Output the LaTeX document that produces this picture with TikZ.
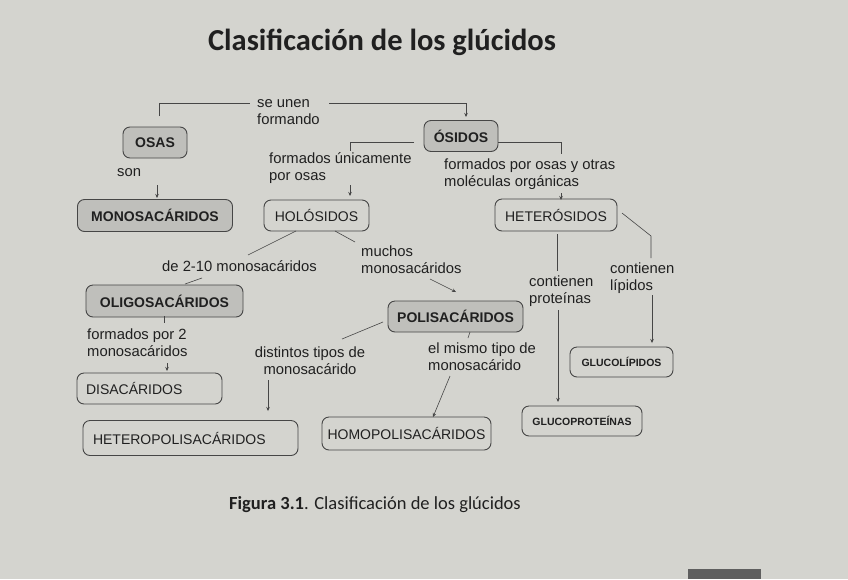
\documentclass[tikz,border=0pt]{standalone}
\usepackage{fontspec}
\setmainfont{Liberation Sans}
\newfontfamily\calib{Carlito}
\usetikzlibrary{arrows.meta}
\definecolor{bg}{RGB}{212,212,207}
\definecolor{boxfill}{RGB}{191,191,187}
\definecolor{ink}{RGB}{32,32,32}
\definecolor{lineink}{RGB}{70,70,70}
\definecolor{patch}{RGB}{95,95,95}
\tikzset{
  box/.style={draw=lineink, line width=0.9pt, rounded corners=7pt, inner sep=0pt, text=ink,
    font=\fontsize{14}{16}\selectfont},
  filledbox/.style={box, fill=boxfill, font=\bfseries\fontsize{14}{16}\selectfont},
  smallbox/.style={box, font=\bfseries\fontsize{10.5}{13}\selectfont},
  lbl/.style={inner sep=0pt, text=ink, align=left, anchor=west, font=\fontsize{14.8}{17}\selectfont},
  conn/.style={draw=lineink, line width=0.6pt},
  arr/.style={-{Stealth[length=4pt,width=3.5pt]}}
}
\begin{document}
\begin{tikzpicture}[x=1pt,y=-1pt]
\path[fill=bg] (0,0) rectangle (848,579);
\useasboundingbox (0,0) rectangle (848,579);
\fill[patch] (688,569) rectangle (761,579);

% title and caption
\node[text=ink, font=\calib\bfseries\fontsize{30.5}{36}\selectfont] (title) at (382,42) {Clasificación de los glúcidos};
\node[text=ink, font=\calib\fontsize{18.5}{22}\selectfont] (caption) at (375,505) {\textbf{Figura 3.1}. Clasificación de los glúcidos};

% boxes
\node[filledbox, minimum width=64pt, minimum height=31pt] (osas) at (155,142.5) {OSAS};
\node[filledbox, minimum width=74pt, minimum height=31pt] (osidos) at (461,136) {ÓSIDOS};
\node[filledbox, minimum width=155pt, minimum height=32pt] (mono) at (155,215.5) {MONOSACÁRIDOS};
\node[box, minimum width=105pt, minimum height=31pt] (holo) at (316.5,215.5) {HOLÓSIDOS};
\node[box, minimum width=122pt, minimum height=32pt] (hetero) at (556,215) {HETERÓSIDOS};
\node[filledbox, minimum width=157pt, minimum height=32pt] (oligo) at (164.5,301) {OLIGOSACÁRIDOS};
\node[filledbox, minimum width=135pt, minimum height=31pt] (poli) at (455.5,316.5) {POLISACÁRIDOS};
\node[box, minimum width=145pt, minimum height=31pt, text width=127pt, align=left] (disa) at (149.5,388.5) {DISACÁRIDOS};
\node[box, minimum width=215pt, minimum height=35pt, text width=195pt, align=left] (hetpol) at (190.5,438) {HETEROPOLISACÁRIDOS};
\node[box, minimum width=169pt, minimum height=33pt] (hompol) at (406.5,433.5) {HOMOPOLISACÁRIDOS};
\node[smallbox, minimum width=120pt, minimum height=30pt] (gprot) at (582,421) {GLUCOPROTEÍNAS};
\node[smallbox, minimum width=103pt, minimum height=30pt] (glip) at (621.5,362) {GLUCOLÍPIDOS};

% labels
\node[lbl] (seunen) at (257,112.5) {se unen\\formando};
\node[lbl] (son) at (117,173) {son};
\node[lbl] (funic) at (269,168.5) {formados únicamente\\por osas};
\node[lbl] (fosas) at (444,174.5) {formados por osas y otras\\moléculas orgánicas};
\node[lbl] (de210) at (162,266) {de 2-10 monosacáridos};
\node[lbl] (muchos) at (361,260) {muchos\\monosacáridos};
\node[lbl] (cprot) at (529,291.5) {contienen\\proteínas};
\node[lbl] (clip) at (610,278) {contienen\\lípidos};
\node[lbl] (fpor2) at (87,342.5) {formados por 2\\monosacáridos};
\node[lbl, anchor=center, align=center] (distintos) at (310,360.5) {distintos tipos de\\monosacárido};
\node[lbl] (mismo) at (428,356.5) {el mismo tipo de\\monosacárido};

% connector points
\coordinate (su1) at (159,116);
\coordinate (su2) at (250,103);
\coordinate (su3) at (329,103);
\coordinate (su4) at (466,117);
\coordinate (son1) at (157,185);
\coordinate (son2) at (157,198);
\coordinate (ol1) at (414,142);
\coordinate (ol2) at (350,151);
\coordinate (ol3) at (350,185);
\coordinate (ol4) at (350,196);
\coordinate (or1) at (498,142);
\coordinate (or2) at (561,154);
\coordinate (or3) at (561,193);
\coordinate (or4) at (561,200);
\coordinate (hl1) at (296,231);
\coordinate (hl2) at (248,255);
\coordinate (hl3) at (185,284);
\coordinate (hl4) at (202,278);
\coordinate (hr1) at (335,231);
\coordinate (hr2) at (355,242);
\coordinate (hr3) at (430,279);
\coordinate (hr4) at (456,292);
\coordinate (hd1) at (557,234);
\coordinate (hd2) at (557,271);
\coordinate (hd3) at (558,310);
\coordinate (hd4) at (558,402);
\coordinate (hx1) at (622,213);
\coordinate (hx2) at (651,236);
\coordinate (hx3) at (651,258);
\coordinate (hx4) at (652,295);
\coordinate (hx5) at (652,343);
\coordinate (og1) at (164,316);
\coordinate (og2) at (164,323);
\coordinate (og3) at (167,363);
\coordinate (og4) at (167,371);
\coordinate (pl1) at (383,322);
\coordinate (pl2) at (342,339);
\coordinate (pl3) at (268,380);
\coordinate (pl4) at (268,411);
\coordinate (pb1) at (470,332);
\coordinate (pb2) at (468,338);
\coordinate (pb3) at (450,376);
\coordinate (pb4) at (433,417);

% connectors
\draw[conn] (su1) |- (su2);
\draw[conn, arr] (su3) -| (su4);
\draw[conn, arr] (son1) -- (son2);
\draw[conn] (ol1) -| (ol2);
\draw[conn, arr] (ol3) -- (ol4);
\draw[conn] (or1) -| (or2);
\draw[conn, arr] (or3) -- (or4);
\draw[conn] (hl1) -- (hl2);
\draw[conn] (hl3) -- (hl4);
\draw[conn] (hr1) -- (hr2);
\draw[conn, arr] (hr3) -- (hr4);
\draw[conn] (hd1) -- (hd2);
\draw[conn, arr] (hd3) -- (hd4);
\draw[conn] (hx1) -- (hx2) -- (hx3);
\draw[conn, arr] (hx4) -- (hx5);
\draw[conn] (og1) -- (og2);
\draw[conn, arr] (og3) -- (og4);
\draw[conn] (pl1) -- (pl2);
\draw[conn, arr] (pl3) -- (pl4);
\draw[conn] (pb1) -- (pb2);
\draw[conn, arr] (pb3) -- (pb4);
\end{tikzpicture}
\end{document}
